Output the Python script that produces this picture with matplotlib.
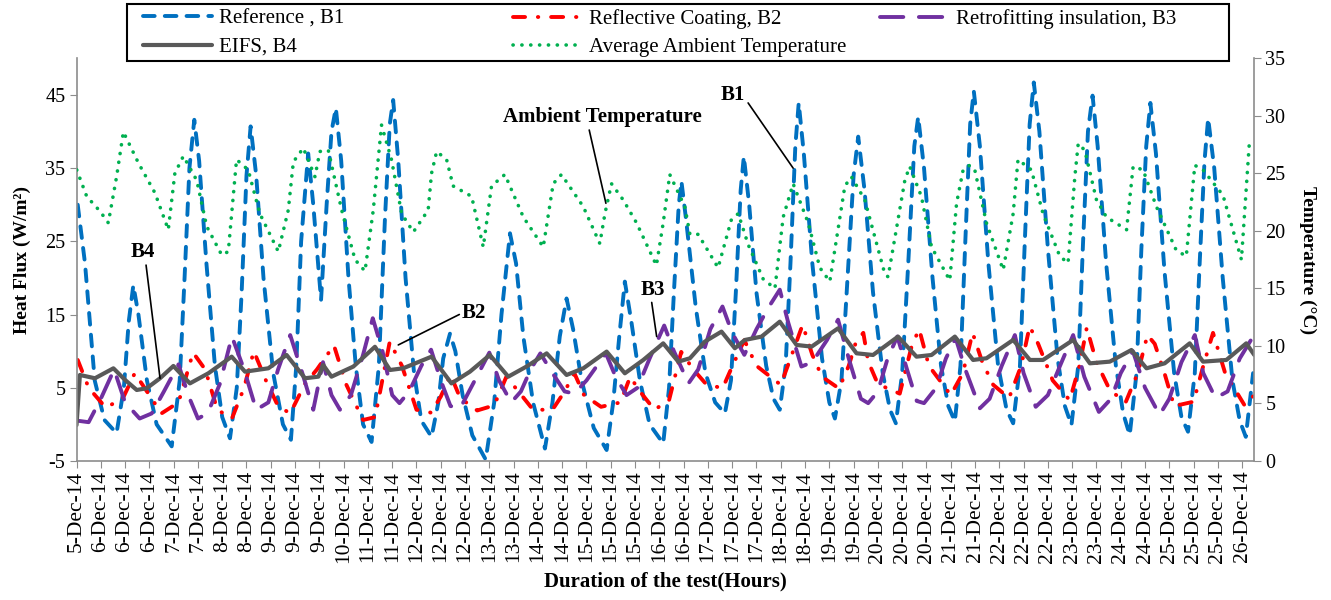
import matplotlib
matplotlib.use("Agg")
import matplotlib.pyplot as plt
from matplotlib.patches import Rectangle

plt.rcParams['font.family'] = ['Liberation Serif', 'DejaVu Serif']
plt.rcParams['axes.unicode_minus'] = False

# category axis: one label every ~10 h of the test
tick_days = [5, 6, 6, 6, 7, 7, 8, 8, 9, 9, 9, 10, 11, 11, 12, 12, 12, 13,
             13, 14, 14, 15, 15, 15, 16, 16, 17, 17, 17, 18, 18, 19, 19, 20, 20, 20,
             21, 21, 22, 22, 22, 23, 23, 24, 24, 25, 25, 25, 26]
tick_labels = [f"{d}-Dec-14" for d in tick_days]

# (position on the label axis, heat flux W/m2)
b1_ref = [
    (0.05, 30.0), (0.35, 22), (0.75, 6), (1.15, 0.6), (1.65, -1.2), (1.95, 5), (2.15, 14),
    (2.34, 19.0), (2.55, 15), (2.9, 6), (3.3, 0), (3.92, -3.0), (4.25, 6), (4.45, 20),
    (4.65, 35), (4.85, 41.6), (5.05, 36), (5.35, 22), (5.7, 8), (6.0, 1), (6.32, -1.9),
    (6.6, 5), (6.8, 18), (7.0, 34), (7.17, 40.7), (7.4, 34), (7.7, 20), (8.1, 7), (8.5, 0),
    (8.83, -2.1), (9.05, 8), (9.25, 25), (9.54, 37.0), (9.75, 30), (10.07, 17.0), (10.3, 30),
    (10.5, 40), (10.68, 43.2), (10.9, 36), (11.2, 20), (11.5, 8), (11.8, 0), (12.15, -2.4),
    (12.45, 8), (12.7, 28), (12.9, 41), (13.04, 44.3), (13.25, 36), (13.55, 20), (13.9, 7),
    (14.2, 0.5), (14.62, -1.7), (14.9, 3), (15.1, 9), (15.38, 12.4), (15.6, 10), (15.9, 4),
    (16.3, -1.5), (16.85, -4.8), (17.2, 3), (17.5, 15), (17.85, 26.1), (18.1, 22), (18.4, 12),
    (18.8, 3), (19.29, -3.3), (19.6, 3), (19.9, 12), (20.18, 17.2), (20.45, 13), (20.8, 6),
    (21.3, -0.5), (21.83, -3.5), (22.1, 3), (22.35, 12), (22.58, 19.5), (22.85, 14), (23.2, 6),
    (23.6, 0), (24.16, -2.6), (24.4, 5), (24.6, 18), (24.8, 30), (24.91, 33.2), (25.1, 28),
    (25.5, 16), (25.9, 7), (26.3, 3), (26.7, 1.5), (26.95, 6), (27.15, 18), (27.35, 32),
    (27.48, 36.6), (27.7, 30), (28.0, 18), (28.4, 8), (28.7, 3.5), (28.96, 2.0), (29.2, 8),
    (29.4, 22), (29.6, 38), (29.74, 43.9), (29.95, 37), (30.3, 22), (30.7, 9), (31.0, 3),
    (31.23, 0.8), (31.5, 6), (31.75, 20), (32.0, 34), (32.19, 39.3), (32.45, 32), (32.8, 18),
    (33.2, 7), (33.5, 2), (33.74, 0.15), (34.0, 7), (34.25, 22), (34.5, 38), (34.66, 42.0),
    (34.9, 35), (35.25, 20), (35.6, 8), (35.9, 2.5), (36.17, 0.4), (36.4, 8), (36.6, 25),
    (36.8, 41), (36.95, 45.5), (37.2, 38), (37.55, 22), (37.95, 8), (38.3, 2), (38.57, 0.15),
    (38.85, 8), (39.05, 25), (39.25, 41), (39.42, 46.7), (39.65, 40), (40.0, 24), (40.4, 9),
    (40.7, 2.5), (40.97, -0.1), (41.25, 8), (41.45, 25), (41.65, 40), (41.84, 44.9), (42.05, 38),
    (42.4, 22), (42.8, 8), (43.1, 1.5), (43.37, -1.45), (43.65, 7), (43.85, 24), (44.05, 38),
    (44.22, 43.9), (44.45, 37), (44.8, 21), (45.2, 7), (45.5, 1), (45.77, -1.0), (46.05, 7),
    (46.25, 22), (46.45, 36), (46.6, 41.8), (46.85, 35), (47.2, 20), (47.6, 6), (47.9, 0.5),
    (48.15, -1.7), (48.45, 7.0),
]

b2_coat = [
    (0.05, 8.8), (0.5, 5.0), (1.2, 2.3), (1.9, 3.5), (2.4, 7.0), (2.9, 4.5), (3.5, 1.5),
    (4.2, 3.0), (4.8, 9.8), (5.3, 7.5), (5.8, 2.0), (6.4, 0.8), (6.9, 5.0), (7.3, 10.0),
    (7.8, 6.0), (8.3, 2.5), (8.8, 1.5), (9.4, 5.5), (9.9, 7.5), (10.6, 10.8), (11.1, 5.5),
    (11.8, 0.6), (12.3, 1.0), (12.9, 11.3), (13.4, 8.0), (14.0, 2.0), (14.6, 1.6), (15.0, 3.8),
    (15.4, 6.8), (15.8, 3.6), (16.5, 1.9), (17.2, 2.6), (17.7, 6.5), (18.2, 4.5), (18.8, 2.0),
    (19.6, 2.0), (20.1, 4.5), (20.5, 7.0), (20.9, 4.0), (21.6, 2.4), (22.4, 3.0), (22.8, 6.5),
    (23.2, 4.5), (23.8, 2.0), (24.4, 3.3), (24.9, 9.9), (25.4, 7.5), (25.9, 5.6), (26.6, 4.9),
    (27.0, 7.9), (27.5, 11.5), (28.0, 8.0), (29.0, 5.4), (29.4, 9.0), (29.9, 13.6), (30.3, 9.5),
    (30.7, 6.5), (31.4, 4.9), (31.8, 8.0), (32.1, 11.3), (32.4, 12.5), (32.6, 8.6), (33.0, 5.5),
    (33.9, 4.2), (34.4, 10.8), (34.7, 13.0), (35.1, 8.0), (36.0, 4.0), (36.5, 7.0), (36.9, 12.5),
    (37.3, 8.5), (37.75, 5.4), (38.4, 3.6), (38.9, 8.0), (39.25, 13.4), (39.6, 11.0), (40.2, 6.0),
    (40.9, 3.3), (41.3, 8.0), (41.6, 13.2), (42.0, 8.5), (42.55, 4.7), (43.2, 3.0), (43.7, 7.0),
    (44.1, 12.2), (44.4, 11.0), (44.8, 7.0), (45.2, 2.5), (46.0, 3.1), (46.4, 8.0), (46.8, 12.5),
    (47.3, 7.0), (48.1, 2.6), (48.5, 4.0),
]

b3_insul = [
    (0.05, 0.5), (0.5, 0.3), (1.0, 3.5), (1.55, 7.5), (2.0, 3.0), (2.6, 0.8), (3.1, 1.5),
    (3.6, 4.5), (4.2, 8.2), (4.6, 4.0), (5.0, 0.8), (5.4, 1.5), (5.9, 5.5), (6.4, 12.0),
    (6.9, 7.5), (7.4, 2.0), (7.9, 3.0), (8.3, 7.5), (8.8, 12.2), (9.3, 7.0), (9.75, 2.0),
    (10.15, 8.5), (10.5, 4.0), (10.85, 2.0), (11.3, 4.0), (11.8, 9.5), (12.2, 14.5), (12.6, 10.0),
    (13.0, 4.0), (13.3, 2.9), (13.7, 4.5), (14.2, 8.0), (14.6, 10.2), (15.0, 6.0), (15.4, 2.5),
    (15.8, 2.2), (16.4, 6.0), (17.0, 9.8), (17.4, 6.0), (17.9, 3.0), (18.3, 4.5), (18.7, 7.5),
    (19.1, 9.7), (19.6, 7.0), (20.1, 4.5), (20.5, 4.2), (21.0, 6.0), (21.8, 9.7), (22.2, 6.5),
    (22.65, 4.0), (23.1, 5.0), (23.6, 9.0), (24.2, 13.5), (24.6, 10.0), (25.2, 5.6), (25.6, 7.5),
    (26.1, 13.0), (26.6, 16.1), (27.0, 12.5), (27.5, 9.5), (28.0, 13.0), (28.5, 16.0),
    (28.96, 18.4), (29.3, 14.0), (29.85, 7.9), (30.3, 8.5), (30.9, 11.5), (31.36, 14.3),
    (31.8, 9.0), (32.3, 3.5), (32.6, 2.9), (33.0, 4.5), (33.4, 9.0), (33.8, 12.0), (34.2, 7.5),
    (34.6, 3.2), (34.9, 2.9), (35.4, 5.0), (35.8, 9.0), (36.2, 11.8), (36.6, 7.5), (37.2, 2.2),
    (37.6, 3.5), (38.1, 8.0), (38.64, 12.2), (39.0, 7.0), (39.5, 2.4), (40.0, 4.0), (40.5, 8.0),
    (41.04, 12.2), (41.5, 6.5), (42.1, 1.7), (42.6, 3.5), (43.0, 7.0), (43.5, 10.0), (44.0, 5.0),
    (44.6, 1.3), (45.0, 3.5), (45.5, 8.5), (46.05, 12.2), (46.4, 7.0), (46.9, 3.6), (47.4, 4.5),
    (47.9, 9.0), (48.45, 12.0),
]

b4_eifs = [
    (0.0, -0.1), (0.14, 6.75), (0.76, 6.3), (1.52, 7.66), (2.0, 6.07), (2.48, 4.7), (2.89, 4.93),
    (3.44, 6.3), (3.99, 7.98), (4.67, 5.6), (5.43, 6.98), (6.39, 9.25), (6.94, 7.2), (7.9, 7.66),
    (8.65, 9.48), (9.41, 6.3), (9.96, 6.52), (10.16, 8.1), (10.5, 6.52), (11.4, 7.9),
    (12.29, 10.6), (12.91, 7.43), (13.45, 7.66), (14.62, 9.25), (15.44, 5.6), (16.2, 7.2),
    (17.02, 9.48), (17.78, 6.52), (18.53, 7.9), (19.36, 9.7), (20.18, 6.75), (20.87, 7.66),
    (21.83, 9.94), (22.58, 6.98), (23.34, 8.8), (24.16, 11.07), (24.78, 8.57), (25.26, 9.03),
    (25.87, 11.3), (26.56, 12.67), (27.11, 10.4), (27.52, 11.53), (28.21, 11.99), (28.96, 14.03),
    (29.65, 10.85), (30.27, 10.62), (31.36, 13.12), (32.12, 9.71), (32.8, 9.48), (33.83, 11.99),
    (34.59, 9.25), (35.21, 9.48), (36.17, 11.99), (36.92, 8.8), (37.47, 9.03), (38.57, 11.53),
    (39.26, 8.8), (39.8, 8.8), (41.04, 11.53), (41.73, 8.34), (42.55, 8.57), (43.44, 10.16),
    (44.06, 7.66), (44.81, 8.34), (45.84, 11.07), (46.39, 8.57), (47.35, 8.8), (48.17, 11.07),
    (48.5, 9.48),
]

# (position, ambient temperature degC) - right axis
amb_temp = [
    (0.01, 25.3), (0.42, 23.0), (0.97, 21.7), (1.31, 20.7), (1.65, 24.7), (1.93, 28.6),
    (2.55, 25.9), (3.23, 23.3), (3.78, 20.1), (4.05, 25.0), (4.4, 26.5), (4.95, 24.4),
    (5.36, 20.4), (5.98, 17.9), (6.25, 18.2), (6.59, 26.2), (7.07, 25.3), (7.55, 21.5),
    (8.31, 18.2), (8.72, 21.8), (8.93, 26.0), (9.34, 27.2), (9.82, 24.7), (10.02, 26.9),
    (10.37, 27.0), (10.92, 21.8), (11.47, 17.5), (11.88, 16.5), (12.22, 21.8), (12.56, 29.2),
    (12.97, 26.2), (13.39, 21.5), (13.87, 19.9), (14.48, 21.8), (14.62, 25.0), (14.83, 26.9),
    (15.24, 26.2), (15.51, 23.9), (16.27, 23.0), (16.75, 18.6), (17.09, 23.9), (17.64, 24.9),
    (18.4, 21.2), (19.22, 18.6), (19.63, 24.1), (19.97, 24.9), (20.87, 22.1), (21.55, 18.9),
    (21.76, 21.5), (22.03, 24.1), (22.51, 22.7), (23.06, 20.7), (23.88, 17.0), (24.16, 20.7),
    (24.43, 24.9), (25.05, 22.1), (25.26, 19.7), (25.6, 19.7), (26.42, 16.8), (26.97, 21.0),
    (27.25, 21.5), (27.66, 18.8), (28.28, 15.8), (28.76, 15.0), (29.1, 21.2), (29.51, 24.1),
    (30.13, 20.7), (30.61, 16.8), (31.02, 15.6), (31.64, 23.9), (31.91, 24.7), (32.46, 22.7),
    (33.28, 16.3), (33.42, 16.0), (34.11, 24.4), (34.31, 25.6), (34.79, 23.0), (35.21, 18.6),
    (35.96, 15.7), (36.24, 22.4), (36.51, 25.3), (36.78, 25.7), (36.99, 25.3), (37.47, 20.7),
    (38.16, 16.6), (38.57, 21.5), (38.77, 26.2), (39.32, 25.3), (39.8, 21.5), (40.49, 17.8),
    (40.83, 17.2), (41.11, 24.7), (41.25, 27.6), (41.52, 27.0), (42.0, 22.7), (42.41, 21.2),
    (43.24, 20.1), (43.51, 25.6), (43.92, 25.3), (44.47, 22.1), (45.29, 18.3), (45.7, 17.8),
    (46.05, 25.7), (46.39, 25.3), (47.21, 23.1), (47.97, 17.5), (48.31, 28.1),
]


def xy(pairs):
    return [p[0] for p in pairs], [p[1] for p in pairs]


W, H = 1331, 600
fig = plt.figure(figsize=(W / 100, H / 100), dpi=100)
ax = fig.add_axes([76.5 / W, 1 - 461 / H, (1254.3 - 76.5) / W, (461 - 58.3) / H])
ax2 = ax.twinx()

blue, red, purple, grey, green = '#0070C0', '#FF0000', '#7030A0', '#595959', '#00B050'

x, y = xy(b1_ref)
l1, = ax.plot(x, y, color=blue, lw=2.8, dashes=(3.0, 2.6), dash_capstyle='round',
              label='Reference , B1')
x, y = xy(b2_coat)
l2, = ax.plot(x, y, color=red, lw=2.8, dashes=(3.1, 3.3, 0.1, 3.3), dash_capstyle='round',
              label='Reflective Coating, B2')
x, y = xy(b3_insul)
l3, = ax.plot(x, y, color=purple, lw=2.8, dashes=(6.0, 4.0), dash_capstyle='round',
              label='Retrofitting insulation, B3')
x, y = xy(b4_eifs)
l4, = ax.plot(x, y, color=grey, lw=3.0, solid_capstyle='round', label='EIFS, B4')
x, y = xy(amb_temp)
l5, = ax2.plot(x, y, color=green, lw=2.6, dashes=(0.05, 2.4), dash_capstyle='round',
               label='Average Ambient Temperature')

ax.set_xlim(0, 48.5)
ax.set_ylim(-5, 50)
ax2.set_ylim(0, 35)
ax.set_yticks([-5, 5, 15, 25, 35, 45])
ax2.set_yticks([0, 5, 10, 15, 20, 25, 30, 35])
ax.set_xticks(range(len(tick_labels)))
ax.set_xticklabels(tick_labels, rotation=90, fontsize=15.5)

for a in (ax, ax2):
    a.spines['top'].set_visible(False)
    for s in ('left', 'right', 'bottom'):
        a.spines[s].set_color('#8c8c8c')
        a.spines[s].set_linewidth(1.2)
ax.spines['right'].set_visible(False)
ax2.spines['left'].set_visible(False)
ax2.spines['bottom'].set_visible(False)
ax.tick_params(axis='y', direction='out', length=5, color='#8c8c8c', labelsize=14.5, pad=3)
ax.tick_params(axis='x', direction='out', length=5, color='#8c8c8c', pad=2)
ax2.tick_params(axis='y', direction='out', length=5, color='#8c8c8c', labelsize=14.5, pad=3)

ax.set_xlabel('Duration of the test(Hours)', fontsize=15, fontweight='bold', labelpad=6)
ax.set_ylabel('Heat Flux (W/m²)', fontsize=14, fontweight='bold', labelpad=10)
ax2.set_ylabel('Temperature (°C)', fontsize=14, fontweight='bold', rotation=270, labelpad=22)

# call-out labels
ann = dict(fontsize=15, fontweight='bold', ha='center', va='center', annotation_clip=False)
line = dict(arrowstyle='-', color='black', lw=1.2, shrinkA=0, shrinkB=0)
ax.annotate('B4', xy=(3.44, 6.3), xytext=(2.75, 23.5), arrowprops=dict(line, relpos=(0.6, 0)), **ann)
ax.annotate('B2', xy=(13.25, 10.85), xytext=(16.38, 15.2), arrowprops=dict(line, relpos=(0, 0.5)), **ann)
ax.annotate('B3', xy=(23.89, 12.0), xytext=(23.72, 18.4), arrowprops=dict(line, relpos=(0.45, 0)), **ann)
ax.annotate('Ambient Temperature', xy=(21.8, 30.2), xytext=(21.66, 41.95),
            arrowprops=dict(line, relpos=(0.43, 0)), **ann)
ax.annotate('B1', xy=(29.51, 35.0), xytext=(27.04, 45.0), arrowprops=dict(line, relpos=(1, 0.3)), **ann)

# legend: boxed, three equal-width columns
fig.add_artist(Rectangle((127 / W, 1 - 61 / H), (1229 - 127) / W, 57 / H,
                         transform=fig.transFigure, facecolor='white',
                         edgecolor='black', lw=1.5, zorder=3))
for x0, hs in ((143, [l1, l4]), (513, [l2, l5]), (880, [l3])):
    fig.legend(handles=hs, loc='upper left', bbox_to_anchor=(x0 / W, 1 - 9 / H),
               borderaxespad=0, borderpad=0, frameon=False, fontsize=15,
               handlelength=3.3, handletextpad=0.35, labelspacing=0.42)

fig.savefig('out.png', dpi=100)
